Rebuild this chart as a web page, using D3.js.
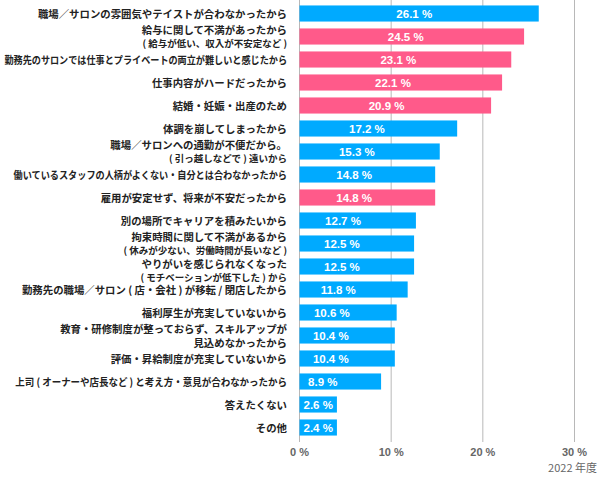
<!DOCTYPE html>
<html><head><meta charset="utf-8">
<script src="https://cdn.jsdelivr.net/npm/d3@7"></script>
<style>
html,body{margin:0;padding:0;background:#fff;}
svg{display:block;font-family:"Noto Sans CJK JP","Noto Sans",sans-serif;}
</style></head>
<body>
<svg id="chart" width="600" height="477"></svg>
<script>
const categories = [
  ["職場／サロンの雰囲気やテイストが合わなかったから"],
  ["給与に関して不満があったから", "( 給与が低い、収入が不安定など )"],
  ["勤務先のサロンでは仕事とプライベートの両立が難しいと感じたから"],
  ["仕事内容がハードだったから"],
  ["結婚・妊娠・出産のため"],
  ["体調を崩してしまったから"],
  ["職場／サロンへの通勤が不便だから。", "( 引っ越しなどで ) 遠いから"],
  ["働いているスタッフの人柄がよくない・自分とは合わなかったから"],
  ["雇用が安定せず、将来が不安だったから"],
  ["別の場所でキャリアを積みたいから"],
  ["拘束時間に関して不満があるから", "( 休みが少ない、労働時間が長いなど )"],
  ["やりがいを感じられなくなった", "( モチベーションが低下した ) から"],
  ["勤務先の職場／サロン ( 店・会社 ) が移転 / 閉店したから"],
  ["福利厚生が充実していないから"],
  ["教育・研修制度が整っておらず、スキルアップが", "見込めなかったから"],
  ["評価・昇給制度が充実していないから"],
  ["上司 ( オーナーや店長など ) と考え方・意見が合わなかったから"],
  ["答えたくない"],
  ["その他"]
];
const values = [26.1, 24.5, 23.1, 22.1, 20.9, 17.2, 15.3, 14.8, 14.8, 12.7, 12.5, 12.5, 11.8, 10.6, 10.4, 10.4, 8.9, 2.6, 2.4];
const groups = ["blue","pink","pink","pink","pink","blue","blue","blue","pink","blue","blue","blue","blue","blue","blue","blue","blue","blue","blue"];
const xTicks = [0, 10, 20, 30];
const yearLabel = "2022 年度";

const colors = {blue: "#00aaff", pink: "#ff5a8a"};

const svg = d3.select("#chart");
const x = d3.scaleLinear().domain([0, 30]).range([299.5, 574.5]);
const y = d3.scaleBand().domain(d3.range(values.length)).range([2, 439]).paddingInner(0.3).paddingOuter(0.15);

// grid lines
svg.append("g").selectAll("line").data(xTicks).join("line")
  .attr("x1", d => x(d)).attr("x2", d => x(d))
  .attr("y1", 0).attr("y2", 442)
  .attr("stroke", "#b8b8b8").attr("stroke-width", 1);

// tick labels
svg.append("g").selectAll("text").data(xTicks).join("text")
  .attr("x", d => x(d)).attr("y", 456)
  .attr("text-anchor", "middle")
  .attr("font-family", "Arial, 'Liberation Sans', sans-serif")
  .attr("font-size", 11).attr("font-weight", "bold").attr("fill", "#666")
  .text(d => d + " %");

svg.append("text").attr("x", 597).attr("y", 472).attr("text-anchor", "end")
  .attr("font-size", 11).attr("fill", "#666").text(yearLabel);

// bars
const bars = svg.append("g").selectAll("g").data(values).join("g");
bars.each(function(v, i) {
  const g = d3.select(this);
  const t = g.append("text")
    .attr("font-family", "Arial, 'Liberation Sans', sans-serif")
    .attr("font-size", 11.5).attr("font-weight", "bold").attr("fill", "#fff")
    .attr("text-anchor", "middle").attr("dominant-baseline", "central")
    .text(v.toFixed(1) + " %");
  const tw = t.node().getComputedTextLength();
  const w = Math.max(x(v) - x(0), tw + 8);
  g.insert("rect", "text")
    .attr("x", x(0)).attr("y", y(i))
    .attr("width", w).attr("height", y.bandwidth())
    .attr("fill", colors[groups[i]]);
  let cx = x(0) + (x(v) - x(0)) * 0.58 - 24;
  cx = Math.max(cx, x(0) + tw / 2 + 4);
  t.attr("x", cx).attr("y", y(i) + y.bandwidth() / 2 + 0.5);
});

// category labels
const labelRight = 287;
const labelG = svg.append("g");
categories.forEach((lines, i) => {
  const cy = y(i) + y.bandwidth() / 2;
  const prevTwo = i > 0 && categories[i - 1].length > 1;
  lines.forEach((ln, j) => {
    let yy;
    if (lines.length === 1) yy = cy;
    else if (prevTwo) yy = cy + (j === 0 ? -3.5 : 10);
    else yy = cy + (j === 0 ? -7 : 6.5);
    const t = labelG.append("text")
      .attr("x", 0).attr("y", 0)
      .attr("text-anchor", "end").attr("font-weight", "bold").attr("fill", "#222")
      .attr("dominant-baseline", "central")
      .attr("font-size", ln.startsWith("(") ? 9.5 : 10.4)
      .text(ln);
    const wNat = t.node().getComputedTextLength();
    let k = 1;
    if (wNat > 275) {
      const target = Math.max(272, Math.min(283, wNat * 0.88));
      k = target / wNat;
    }
    t.attr("transform", `translate(${labelRight},${yy}) scale(${k},1)`);
  });
});
</script>
</body></html>
